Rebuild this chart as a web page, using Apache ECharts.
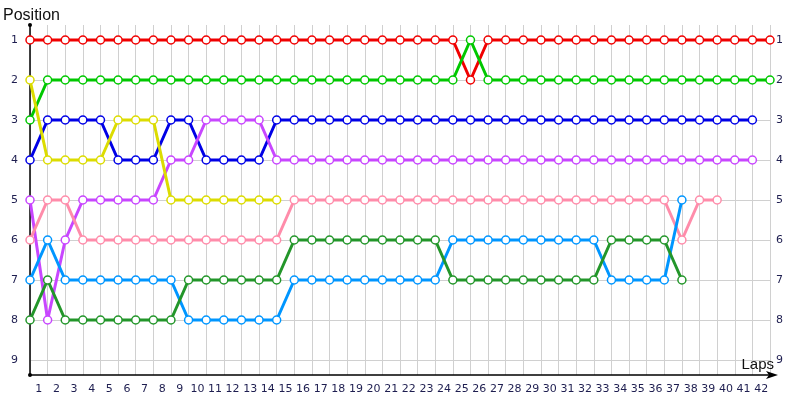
<!DOCTYPE html>
<html>
<head>
<meta charset="utf-8">
<script src="https://cdn.jsdelivr.net/npm/echarts@6/dist/echarts.min.js"></script>
<style>html,body{margin:0;padding:0;background:#fff}#chart{width:800px;height:400px}</style>
</head>
<body>
<div id="chart"></div>
<script>
// Lap tick labels (shown centred between the gridlines)
const lapLabels = ['1','2','3','4','5','6','7','8','9','10','11','12','13','14','15','16','17','18','19','20','21','22','23','24','25','26','27','28','29','30','31','32','33','34','35','36','37','38','39','40','41','42'];
const positionLabels = ['1','2','3','4','5','6','7','8','9'];

// Position at the start (index 0) and after each lap
const red       = [1,1,1,1,1,1,1,1,1,1, 1,1,1,1,1,1,1,1,1,1, 1,1,1,1,1,2,1,1,1,1, 1,1,1,1,1,1,1,1,1,1, 1,1,1];
const green     = [3,2,2,2,2,2,2,2,2,2, 2,2,2,2,2,2,2,2,2,2, 2,2,2,2,2,1,2,2,2,2, 2,2,2,2,2,2,2,2,2,2, 2,2,2];
const blue      = [4,3,3,3,3,4,4,4,3,3, 4,4,4,4,3,3,3,3,3,3, 3,3,3,3,3,3,3,3,3,3, 3,3,3,3,3,3,3,3,3,3, 3,3];
const purple    = [5,8,6,5,5,5,5,5,4,4, 3,3,3,3,4,4,4,4,4,4, 4,4,4,4,4,4,4,4,4,4, 4,4,4,4,4,4,4,4,4,4, 4,4];
const yellow    = [2,4,4,4,4,3,3,3,5,5, 5,5,5,5,5];
const pink      = [6,5,5,6,6,6,6,6,6,6, 6,6,6,6,6,5,5,5,5,5, 5,5,5,5,5,5,5,5,5,5, 5,5,5,5,5,5,5,6,5,5];
const lightBlue = [7,6,7,7,7,7,7,7,7,8, 8,8,8,8,8,7,7,7,7,7, 7,7,7,7,6,6,6,6,6,6, 6,6,6,7,7,7,7,5];
const darkGreen = [8,7,8,8,8,8,8,8,8,7, 7,7,7,7,7,6,6,6,6,6, 6,6,6,6,7,7,7,7,7,7, 7,7,7,6,6,6,6,7];

const seriesDefs = [
  {name: 'Car A', data: red, color: '#f00000'},
  {name: 'Car B', data: green, color: '#00c800'},
  {name: 'Car C', data: blue, color: '#0000e6'},
  {name: 'Car D', data: purple, color: '#c846ff'},
  {name: 'Car E', data: yellow, color: '#dcdc00'},
  {name: 'Car F', data: pink, color: '#ff8caa'},
  {name: 'Car G', data: lightBlue, color: '#0096ff'},
  {name: 'Car H', data: darkGreen, color: '#23962a'}
];

const labelFont = {fontFamily: 'DejaVu Sans', fontSize: 11, color: '#1e1e50'};
const gridLine = {color: '#d0d0d0', width: 1};

const chart = echarts.init(document.getElementById('chart'), null, {renderer: 'canvas'});
chart.setOption({
  animation: false,
  backgroundColor: '#ffffff',
  title: {
    text: 'Position', left: 3, top: 8, padding: 0,
    textStyle: {fontFamily: 'Liberation Sans', fontSize: 16, fontWeight: 'normal', color: '#111111'}
  },
  grid: [
    // data grid: positions 1..9
    {left: 30, right: 30, top: 40, bottom: 40, containLabel: false},
    // frame grid: axis lines and vertical gridlines
    {left: 30, right: 30, top: 25, bottom: 25, containLabel: false}
  ],
  xAxis: [
    {
      gridIndex: 0, type: 'value', min: 0, max: 42, interval: 1,
      axisLine: {show: false}, axisTick: {show: false}, axisLabel: {show: false}, splitLine: {show: false}
    },
    {
      gridIndex: 1, type: 'value', min: 0, max: 42, interval: 1, position: 'bottom',
      name: 'Laps', nameLocation: 'end', nameGap: 4,
      nameTextStyle: {fontFamily: 'Liberation Sans', fontSize: 15, color: '#111111', align: 'right', verticalAlign: 'bottom', padding: [0, 0, 3, 0]},
      axisLine: {show: true, onZero: false, lineStyle: {color: '#000000', width: 1.5}, symbol: ['none', 'arrow'], symbolSize: [6, 12], symbolOffset: [0, 8]},
      axisTick: {show: false},
      axisLabel: {show: false},
      splitLine: {show: true, lineStyle: gridLine}
    },
    {
      gridIndex: 1, type: 'category', data: lapLabels, boundaryGap: true, position: 'bottom',
      axisLine: {show: false}, axisTick: {show: false},
      axisLabel: Object.assign({margin: 9, interval: 0}, labelFont),
      splitLine: {show: false}
    }
  ],
  yAxis: [
    {
      gridIndex: 0, type: 'value', inverse: true, min: 1, max: 9, interval: 1, position: 'left',
      axisLine: {show: false}, axisTick: {show: false},
      axisLabel: Object.assign({margin: 12, formatter: v => positionLabels[v - 1]}, labelFont),
      splitLine: {show: true, lineStyle: gridLine}
    },
    {
      gridIndex: 0, type: 'value', inverse: true, min: 1, max: 9, interval: 1, position: 'right',
      axisLine: {show: false}, axisTick: {show: false},
      axisLabel: Object.assign({margin: 6, formatter: v => positionLabels[v - 1]}, labelFont),
      splitLine: {show: false}
    },
    {
      gridIndex: 1, type: 'value', min: 0, max: 1, interval: 1, position: 'left',
      axisLine: {show: true, onZero: false, lineStyle: {color: '#000000', width: 1.5}, symbol: ['circle', 'circle'], symbolSize: [4, 4]},
      axisTick: {show: false}, axisLabel: {show: false}, splitLine: {show: false}
    }
  ],
  series: seriesDefs.map(s => ({
    name: s.name,
    type: 'line',
    xAxisIndex: 0,
    yAxisIndex: 0,
    data: s.data.map((v, i) => [i, v]),
    symbol: 'circle',
    symbolSize: 8,
    showAllSymbol: true,
    clip: false,
    lineStyle: {color: s.color, width: 3},
    itemStyle: {color: '#ffffff', borderColor: s.color, borderWidth: 1.5},
    emphasis: {disabled: true}
  }))
});
</script>
</body>
</html>
